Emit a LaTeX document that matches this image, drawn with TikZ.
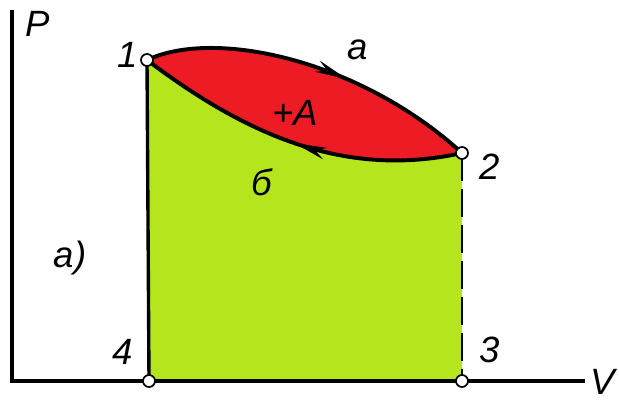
\documentclass[tikz,border=0pt]{standalone}
\usepackage{fontspec}
\setmainfont{Liberation Sans}
\usetikzlibrary{arrows.meta,decorations.markings}
\definecolor{CycleRed}{HTML}{ED1C24}
\definecolor{CycleGreen}{HTML}{B5E61D}

\begin{document}
\begin{tikzpicture}[
    x=0.025cm,y=-0.025cm,
    every node/.style={font=\fontsize{26}{26}\selectfont\itshape,inner sep=1pt},
    state/.style={circle,draw,fill=white,line width=1.2pt,inner sep=0pt,minimum size=3mm},
    axis/.style={line width=2.4pt},
    curve/.style={line width=2.8pt},
    midarrow/.style={postaction={decorate},
      decoration={markings,mark=at position #1 with {\arrow{Stealth[length=8mm,width=3mm]}}}}
  ]
    \useasboundingbox (0,0) rectangle (619,403);
    % axes and state points
    \coordinate (origin) at (12,381);
    \coordinate (ptop) at (12,10);
    \coordinate (vend) at (585,381);
    \coordinate (s1) at (147,60);
    \coordinate (s2) at (462,153);
    \coordinate (s3) at (462,381);
    \coordinate (s4) at (149,381);
    % areas
    \fill[CycleGreen] (s1) .. controls (240,130) and (340,180) .. (s2)
      -- (s3) -- (s4) -- cycle;
    \fill[CycleRed] (s1) .. controls (215,28) and (360,60) .. (s2)
      .. controls (340,180) and (240,130) .. (s1);
    \draw[axis] (ptop) -- (origin) -- (vend);
    \draw[axis] (s4) -- (s1);
    \draw[line width=1.4pt,dash pattern=on 7mm off 2mm] (s2) -- (s3);
    \draw[curve,midarrow=0.6] (s1) .. controls (215,28) and (360,60) .. (s2);
    \draw[curve,midarrow=0.5] (s2) .. controls (340,180) and (240,130) .. (s1);
    \node[state] (p1) at (s1) {};
    \node[state] (p2) at (s2) {};
    \node[state] (p3) at (s3) {};
    \node[state] (p4) at (s4) {};
    % labels
    \node (lp) at (38,24) {P};
    \node (lv) at (603,382) {V};
    \node (l1) at (128,55) {1};
    \node (l2) at (490,167) {2};
    \node (l3) at (490,350) {3};
    \node (l4) at (123,352) {4};
    \node (la) at (358,50) {a};
    \node (lb) at (262,182) {б};
    \node (lA) at (295,113) {+A};
    \node (lcase) at (70,258) {a)};
  \end{tikzpicture}
\end{document}
